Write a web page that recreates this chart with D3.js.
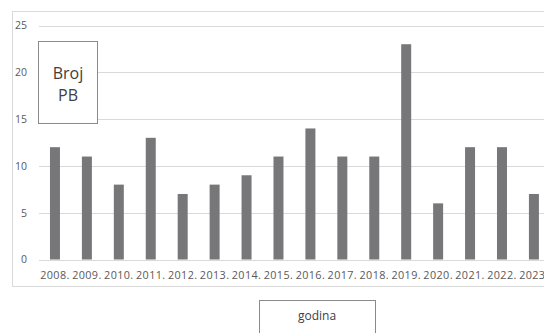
<!DOCTYPE html>
<html><head><meta charset="utf-8">
<script src="https://cdn.jsdelivr.net/npm/d3@7"></script>
<style>html,body{margin:0;padding:0;background:#fff;overflow:hidden}</style>
</head><body>
<script>
const years = ["2008.","2009.","2010.","2011.","2012.","2013.","2014.","2015.","2016.","2017.","2018.","2019.","2020.","2021.","2022.","2023."];
const counts = [12,11,8,13,7,8,9,11,14,11,11,23,6,12,12,7];
const yTicks = [0,5,10,15,20,25];
const yTitle = ["Broj","PB"];
const xTitle = "godina";

const W = 544, H = 333;
const font = "'Open Sans', 'DejaVu Sans', sans-serif";
const svg = d3.select("body").append("svg").attr("width", W).attr("height", H);

// chart frame
svg.append("rect").attr("x", 12.5).attr("y", 11.5).attr("width", 560).attr("height", 275)
  .attr("fill", "#fff").attr("stroke", "#d9d9d9").attr("stroke-width", 1);

const x = d3.scaleBand().domain(years).range([39, 39 + 16 * 31.93]).paddingInner(0.687).paddingOuter(0.3435);
const y = d3.scaleLinear().domain([0, 25]).range([259.5, 25.5]);

// gridlines
svg.append("g").selectAll("line").data(yTicks).join("line")
  .attr("x1", 39).attr("x2", 600)
  .attr("y1", d => Math.round(y(d)) + 0.5).attr("y2", d => Math.round(y(d)) + 0.5)
  .attr("stroke", "#d9d9d9").attr("stroke-width", 1);

// y axis labels
const yAxis = d3.axisLeft(y).tickValues(yTicks).tickSize(0).tickPadding(0);
const gy = svg.append("g").attr("transform", "translate(27,0)").call(yAxis);
gy.select(".domain").remove();
gy.selectAll("text").attr("font-family", font).attr("font-size", 10.5).attr("fill", "#595959");

// bars
svg.append("g").selectAll("rect").data(counts).join("rect")
  .attr("x", (d, i) => x(years[i]))
  .attr("width", x.bandwidth())
  .attr("y", d => y(d))
  .attr("height", d => y(0) - y(d))
  .attr("fill", "#77777a");

// x axis labels
const xAxis = d3.axisBottom(x).tickSize(0).tickPadding(0);
const gx = svg.append("g").attr("transform", "translate(0,271)").call(xAxis);
gx.select(".domain").remove();
gx.selectAll("text").attr("font-family", font).attr("font-size", 10.8)
  .attr("letter-spacing", 0.4).attr("fill", "#595959");

// y title box
svg.append("rect").attr("x", 38.5).attr("y", 41.5).attr("width", 59).attr("height", 82)
  .attr("fill", "#fff").attr("stroke", "#8a8a8a").attr("stroke-width", 1);
svg.append("text").attr("x", 68).attr("y", 78.5).attr("text-anchor", "middle")
  .attr("font-family", font).attr("font-size", 16).attr("fill", "#404040").text(yTitle[0]);
svg.append("text").attr("x", 68).attr("y", 100.5).attr("text-anchor", "middle")
  .attr("font-family", font).attr("font-size", 16).attr("fill", "#404040").text(yTitle[1]);

// x title box
svg.append("rect").attr("x", 259.5).attr("y", 300.5).attr("width", 116).attr("height", 50)
  .attr("fill", "#fff").attr("stroke", "#8a8a8a").attr("stroke-width", 1);
svg.append("text").attr("x", 317).attr("y", 319.5).attr("text-anchor", "middle")
  .attr("font-family", font).attr("font-size", 12).attr("fill", "#404040").text(xTitle);
</script>
</body></html>
